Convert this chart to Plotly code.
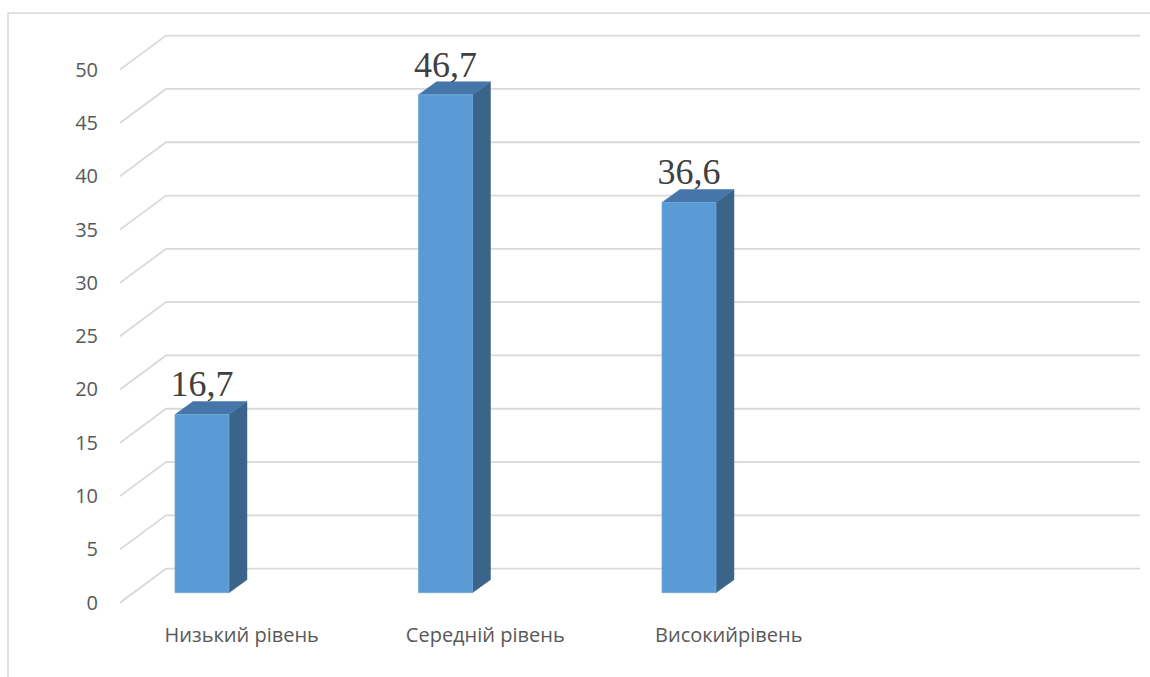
import plotly.graph_objects as go

# ---- data ----
categories = ["Низький рівень", "Середній рівень", "Високийрівень"]
values = [16.7, 46.7, 36.6]
labels = ["16,7", "46,7", "36,6"]
y_ticks = [0, 5, 10, 15, 20, 25, 30, 35, 40, 45, 50]

# ---- pseudo-3D geometry (axis units) ----
n_slots = 4                      # category slots in the plot (last one empty)
wall_dx, wall_dy = 0.189, 3.19   # depth of the floor / back wall
front_dx, front_dy = 0.0554, 0.94  # depth of bar front face
bar_dx, bar_dy = 0.0739, 1.22    # depth of each bar
bar_left, bar_right = -0.2741, -0.0524  # bar front face relative to slot centre
label_drop = 0.35                # data label nudge toward bar top

FRONT = "#5b9bd5"
TOP = "#4675a9"
SIDE = "#3a6489"
GRID = "#d9d9d9"

fig = go.Figure()

# perspective gridlines (side wall diagonal + back wall horizontal)
x_start = -0.5
x_end = n_slots - 0.5 + wall_dx
for v in y_ticks:
    fig.add_trace(go.Scatter(
        x=[x_start, x_start + wall_dx, x_end],
        y=[v, v + wall_dy, v + wall_dy],
        mode="lines", line=dict(color=GRID, width=1.8),
        hoverinfo="skip", showlegend=False))

# bars
for i, v in enumerate(values):
    L = i + bar_left
    R = i + bar_right
    b = front_dy
    t = v + front_dy
    # side face
    fig.add_trace(go.Scatter(
        x=[R, R + bar_dx, R + bar_dx, R, R],
        y=[b, b + bar_dy, t + bar_dy, t, b],
        mode="lines", fill="toself", fillcolor=SIDE,
        line=dict(color=SIDE, width=0.5),
        hoverinfo="skip", showlegend=False))
    # top face
    fig.add_trace(go.Scatter(
        x=[L, L + bar_dx, R + bar_dx, R, L],
        y=[t, t + bar_dy, t + bar_dy, t, t],
        mode="lines", fill="toself", fillcolor=TOP,
        line=dict(color=TOP, width=0.5),
        hoverinfo="skip", showlegend=False))
    # front face
    fig.add_trace(go.Scatter(
        x=[L, R, R, L, L],
        y=[b, b, t, t, b],
        mode="lines", fill="toself", fillcolor=FRONT,
        line=dict(color="#6fa8dc", width=0.8),
        hoverinfo="skip", showlegend=False))

# data labels
fig.add_trace(go.Scatter(
    x=[i + (bar_left + bar_right) / 2 for i in range(len(values))],
    y=[v + front_dy + bar_dy - label_drop for v in values],
    mode="text", text=labels, textposition="top center",
    textfont=dict(family="Liberation Serif", size=36, color="#404040"),
    hoverinfo="skip", showlegend=False))

L_M, R_M, T_M, B_M = 120, 10, 27, 69
W, H = 1150, 677
pw = W - L_M - R_M
ph = H - T_M - B_M

fig.update_layout(
    width=W, height=H,
    margin=dict(l=L_M, r=R_M, t=T_M, b=B_M),
    paper_bgcolor="white", plot_bgcolor="white",
    showlegend=False,
    font=dict(family="Open Sans", color="#595959"),
    xaxis=dict(
        range=[-0.5, n_slots - 0.5 + wall_dx],
        tickmode="array", tickvals=list(range(len(categories))), ticktext=categories,
        showgrid=False, zeroline=False, showline=False, ticks="",
        tickfont=dict(size=20, color="#595959", family="Open Sans"),
        ticklabelstandoff=13, fixedrange=True),
    yaxis=dict(
        range=[-0.5, 54],
        tickmode="array", tickvals=y_ticks,
        showgrid=False, zeroline=False, showline=False, ticks="",
        tickfont=dict(size=20, color="#595959", family="Open Sans"),
        ticklabelstandoff=21, fixedrange=True),
    shapes=[dict(
        type="rect", xref="paper", yref="paper",
        x0=(8 - L_M) / pw, x1=(W + 2 - L_M) / pw,
        y0=(H - B_M - (H + 10)) / ph, y1=(H - B_M - 13) / ph,
        line=dict(color=GRID, width=1.5), fillcolor="rgba(0,0,0,0)", layer="below")],
)

fig.write_html("out.html")
